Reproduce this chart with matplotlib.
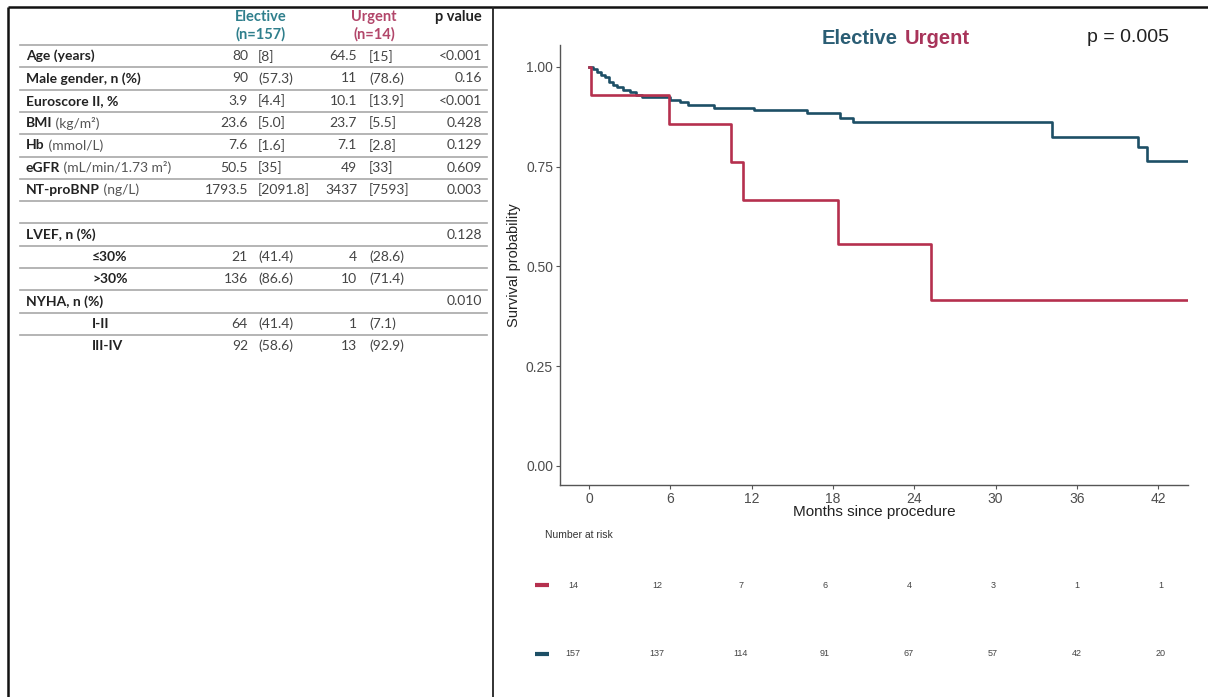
import numpy as np
import matplotlib
matplotlib.use("Agg")
import matplotlib.pyplot as plt

# ---- table data ----
row_bold = ["Age (years)", "Male gender, n (%)", "Euroscore II, %", "BMI", "Hb", "eGFR",
            "NT-proBNP", "", "LVEF, n (%)", "\u226430%", ">30%", "NYHA, n (%)", "I-II", "III-IV"]
row_unit = ["", "", "", " (kg/m\u00b2)", " (mmol/L)", " (mL/min/1.73 m\u00b2)", " (ng/L)",
            "", "", "", "", "", "", ""]
row_indent = [0, 0, 0, 0, 0, 0, 0, 0, 0, 1, 1, 0, 1, 1]
elective_val = ["80", "90", "3.9", "23.6", "7.6", "50.5", "1793.5", "", "", "21", "136", "", "64", "92"]
elective_spr = ["[8]", "(57.3)", "[4.4]", "[5.0]", "[1.6]", "[35]", "[2091.8]", "", "",
                "(41.4)", "(86.6)", "", "(41.4)", "(58.6)"]
urgent_val = ["64.5", "11", "10.1", "23.7", "7.1", "49", "3437", "", "", "4", "10", "", "1", "13"]
urgent_spr = ["[15]", "(78.6)", "[13.9]", "[5.5]", "[2.8]", "[33]", "[7593]", "", "",
              "(28.6)", "(71.4)", "", "(7.1)", "(92.9)"]
p_vals = ["<0.001", "0.16", "<0.001", "0.428", "0.129", "0.609", "0.003", "", "0.128",
          "", "", "0.010", "", ""]

# ---- survival curves ----
elective_t = [0, 0.3, 0.6, 0.9, 1.2, 1.5, 1.8, 2.1, 2.5, 3.0, 3.5, 3.9, 6.0, 6.7, 7.3,
              9.2, 12.2, 16.1, 18.5, 19.5, 34.2, 40.5, 41.2, 44.2]
elective_s = [1.0, 0.994, 0.987, 0.981, 0.974, 0.962, 0.955, 0.949, 0.942, 0.936, 0.930,
              0.924, 0.917, 0.911, 0.904, 0.898, 0.891, 0.884, 0.872, 0.862, 0.825, 0.80,
              0.765, 0.765]
urgent_t = [0, 0.15, 5.9, 10.5, 11.4, 18.4, 25.2, 44.2]
urgent_s = [1.0, 0.929, 0.857, 0.762, 0.667, 0.556, 0.417, 0.417]

risk_times = [0, 6, 12, 18, 24, 30, 36, 42]
risk_urgent = [14, 12, 7, 6, 4, 3, 1, 1]
risk_elective = [157, 137, 114, 91, 67, 57, 42, 20]

C_EL = "#1d4f66"
C_UR = "#b5304e"
C_EL_H = "#2f7f8c"
C_UR_H = "#b2466a"

W, H = 1208, 697
fig = plt.figure(figsize=(W / 100, H / 100), dpi=100)
fig.patch.set_facecolor("white")

# pixel overlay for table & frame
ov = fig.add_axes([0, 0, 1, 1])
ov.set_xlim(0, W)
ov.set_ylim(H, 0)
ov.axis("off")

ov.plot([8, W], [7, 7], color="#111", lw=1.8, solid_capstyle="butt")
ov.plot([8, 8], [7, H], color="#111", lw=1.8, solid_capstyle="butt")
ov.plot([493, 493], [7, H], color="#222", lw=1.3, solid_capstyle="butt")

TF = "Lato"
fs = 10
hfs = 10.5
ov.text(261, 17, "Elective", ha="center", va="center", fontsize=hfs, fontweight="bold",
        color=C_EL_H, family=TF)
ov.text(261, 34, "(n=157)", ha="center", va="center", fontsize=hfs, fontweight="bold",
        color=C_EL_H, family=TF)
ov.text(374, 17, "Urgent", ha="center", va="center", fontsize=hfs, fontweight="bold",
        color=C_UR_H, family=TF)
ov.text(374, 34, "(n=14)", ha="center", va="center", fontsize=hfs, fontweight="bold",
        color=C_UR_H, family=TF)
ov.text(482, 17, "p value", ha="right", va="center", fontsize=hfs, fontweight="bold",
        color="#222", family=TF)

top = 45
pitch = 22.3
for k in range(len(row_bold)):
    y = top + pitch * k
    ov.plot([20, 487], [y, y], color="#a8a8a8", lw=1.2)

renderer = fig.canvas.get_renderer()
inv = ov.transData.inverted()
for i, lab in enumerate(row_bold):
    yc = top + pitch * i + pitch / 2
    x0 = 92 if row_indent[i] else 26
    if lab:
        t = ov.text(x0, yc, lab, ha="left", va="center", fontsize=fs, fontweight="bold",
                    color="#222", family=TF)
        if row_unit[i]:
            bb = t.get_window_extent(renderer=renderer)
            xu = inv.transform((bb.x1, bb.y0))[0]
            ov.text(xu, yc, row_unit[i], ha="left", va="center", fontsize=fs,
                    color="#555", family=TF)
    ov.text(248, yc, elective_val[i], ha="right", va="center", fontsize=fs, color="#444", family=TF)
    ov.text(258, yc, elective_spr[i], ha="left", va="center", fontsize=fs, color="#444", family=TF)
    ov.text(357, yc, urgent_val[i], ha="right", va="center", fontsize=fs, color="#444", family=TF)
    ov.text(369, yc, urgent_spr[i], ha="left", va="center", fontsize=fs, color="#444", family=TF)
    ov.text(482, yc, p_vals[i], ha="right", va="center", fontsize=fs, color="#444", family=TF)

# titles of KM panel
ov.text(898, 38, "Elective", ha="right", va="center", fontsize=14.5, fontweight="bold",
        color="#2a5d74", family="Liberation Sans")
ov.text(905, 38, "Urgent", ha="left", va="center", fontsize=14.5, fontweight="bold",
        color="#a8345a", family="Liberation Sans")
ov.text(1087, 38, "p = 0.005", ha="left", va="center", fontsize=14,
        color="#222", family="Liberation Sans")

# ---- KM axes ----
L, R, T, B = 560, 1188, 45, 485
ax = fig.add_axes([L / W, 1 - B / H, (R - L) / W, (B - T) / H])
ax.patch.set_alpha(0)
ax.step(elective_t, elective_s, where="post", color=C_EL, lw=1.9)
ax.step(urgent_t, urgent_s, where="post", color=C_UR, lw=1.9)
ax.set_xlim(-2.14, 44.2)
ax.set_ylim(-0.048, 1.055)
ax.set_xticks(risk_times)
ax.set_yticks([0, 0.25, 0.5, 0.75, 1.0])
ax.set_yticklabels(["0.00", "0.25", "0.50", "0.75", "1.00"])
for s in ["top", "right"]:
    ax.spines[s].set_visible(False)
for s in ["left", "bottom"]:
    ax.spines[s].set_color("#555")
    ax.spines[s].set_linewidth(1.0)
ax.tick_params(colors="#555", labelcolor="#4d4d4d", labelsize=10, length=3, width=0.8,
               pad=2)
for lab in ax.get_xticklabels() + ax.get_yticklabels():
    lab.set_family("Liberation Sans")
ax.set_xlabel("Months since procedure", fontsize=11, color="#222", family="Liberation Sans",
              labelpad=-1)
ax.set_ylabel("Survival probability", fontsize=10.5, color="#222", family="Liberation Sans")
ax.yaxis.set_label_coords(-0.062, 0.5)

# ---- number at risk ----
ax_r = fig.add_axes([530 / W, 1 - 680 / H, (1190 - 530) / W, (680 - 560) / H])
ax_r.set_xlim(-3.08, 44.1)
ax_r.set_ylim(0, 1)
ax_r.axis("off")
ov.text(545, 535, "Number at risk", ha="left", va="center", fontsize=7.5, color="#333",
        family="Liberation Sans")
rows_y = [0.79, 0.22]
for yv, counts, col in [(rows_y[0], risk_urgent, C_UR), (rows_y[1], risk_elective, C_EL)]:
    ax_r.plot([-2.2], [yv], marker="_", ms=10, mew=3, color=col)
    for tt, n in zip(risk_times, counts):
        ax_r.text(tt, yv, str(n), ha="center", va="center", fontsize=6.5, color="#444",
                  family="Liberation Sans")

fig.savefig("out.png", dpi=100)
